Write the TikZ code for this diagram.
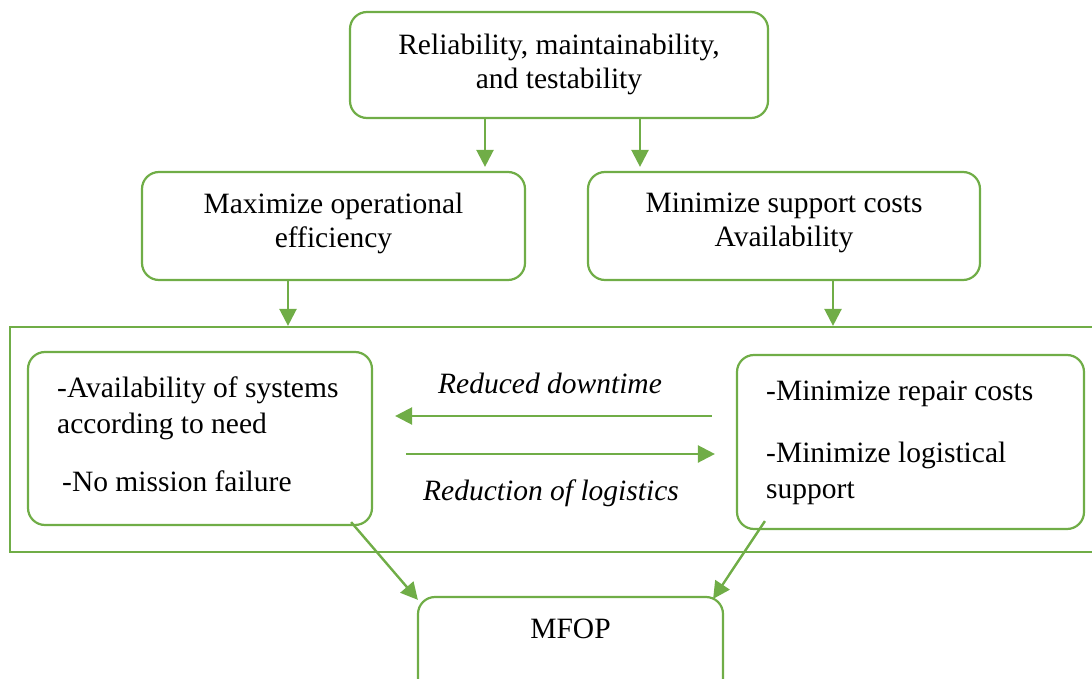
\documentclass[tikz,border=0pt]{standalone}
\usepackage{fontspec}
\setmainfont{Liberation Serif}
\usetikzlibrary{arrows.meta}
\definecolor{grn}{RGB}{112,173,71}
\tikzset{
  box/.style={draw=grn, line width=2.2pt, rounded corners=17pt, inner sep=0pt},
  frame/.style={draw=grn, line width=2.2pt, inner sep=0pt},
  txt/.style={font=\fontsize{29.5}{34}\selectfont, align=center, inner sep=0pt},
  ltxt/.style={font=\fontsize{29.5}{36}\selectfont, align=left, anchor=west, inner sep=0pt},
  itxt/.style={font=\fontsize{29.5}{34}\selectfont\itshape, inner sep=0pt},
  arr/.style={draw=grn, line width=2.4pt, -{Triangle[length=17pt,width=17pt]}},
}
\begin{document}
\begin{tikzpicture}[x=1pt,y=-1pt]
\useasboundingbox (0,0) rectangle (1092,679);
\clip (0,0) rectangle (1092,679);
% boxes
\node[box, minimum width=418pt, minimum height=106pt] (top) at (559,65) {};
\node[txt] (toptxt) at (559,64) {Reliability, maintainability,\\and testability};
\node[box, minimum width=383pt, minimum height=108pt] (lbox) at (333.5,226) {};
\node[txt] (ltxt) at (333.5,223) {Maximize operational\\efficiency};
\node[box, minimum width=392pt, minimum height=108pt] (rbox) at (784,226) {};
\node[txt] (rtxt) at (784,223) {Minimize support costs\\Availability};
\node[frame, minimum width=1100pt, minimum height=225pt] (outer) at (560,439.5) {};
\node[box, minimum width=344pt, minimum height=173pt] (ibl) at (200,438.5) {};
\node[ltxt] (ibl1) at (57,408) {-Availability of systems\\according to need};
\node[ltxt] (ibl2) at (62,481) {-No mission failure};
\node[box, minimum width=347pt, minimum height=174pt] (ibr) at (910.5,442) {};
\node[ltxt] (ibr1) at (766,394) {-Minimize repair costs};
\node[ltxt] (ibr2) at (766,473) {-Minimize logistical\\support};
\node[box, minimum width=305pt, minimum height=110pt] (mfop) at (570.5,652) {};
\node[txt] (mfoptxt) at (570.5,629) {MFOP};
% italic labels
\node[itxt] (lab1) at (550,383) {Reduced downtime};
\node[itxt] (lab2) at (551,493) {Reduction of logistics};
% helper x positions
\coordinate (xa) at (485,0);
\coordinate (xb) at (640,0);
\coordinate (xc) at (288,0);
\coordinate (xd) at (833,0);
\coordinate (ya) at (0,416);
\coordinate (yb) at (0,454);
% connectors
\draw[arr] (top.south -| xa) -- ([yshift=4pt]lbox.north -| xa);
\draw[arr] (top.south -| xb) -- ([yshift=4pt]rbox.north -| xb);
\draw[arr] (lbox.south -| xc) -- (outer.north -| xc);
\draw[arr] (rbox.south -| xd) -- (outer.north -| xd);
\draw[arr] ([xshift=-24pt]ibr.west |- ya) -- ([xshift=22pt]ibl.east |- ya);
\draw[arr] ([xshift=33pt]ibl.east |- yb) -- ([xshift=-21pt]ibr.west |- yb);
\draw[arr] ([xshift=-22pt,yshift=4pt]ibl.south east) -- ([xshift=1pt,yshift=-4pt]mfop.north west);
\draw[arr] ([xshift=29pt,yshift=9pt]ibr.south west) -- ([xshift=-11pt,yshift=-3pt]mfop.north east);
\end{tikzpicture}
\end{document}
